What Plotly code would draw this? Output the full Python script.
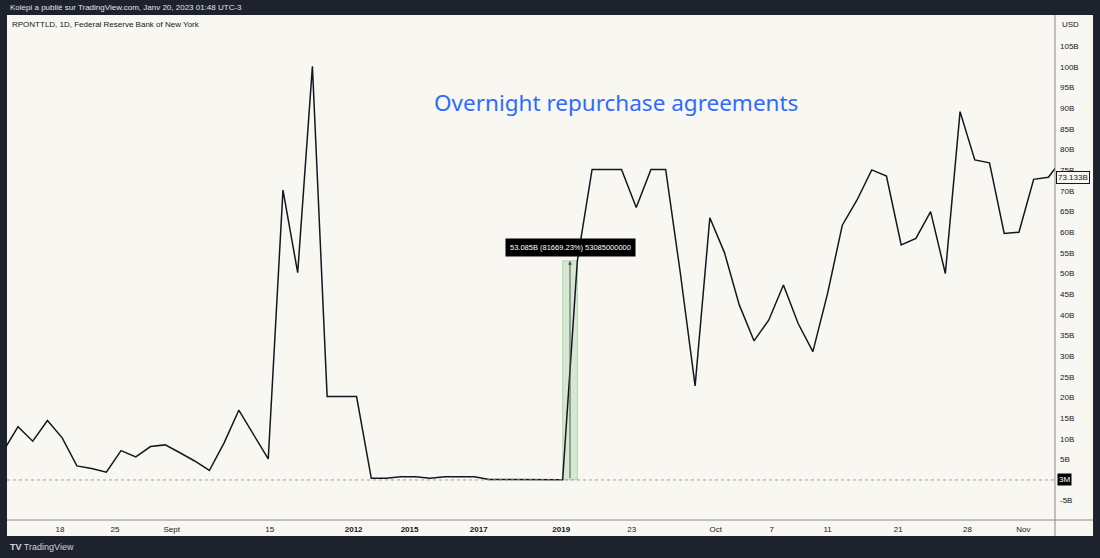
import plotly.graph_objects as go

# RPONTTLD daily values (billions USD), one value per bar
values = [
    7.0, 12.9, 9.4, 14.4, 10.2, 3.4, 2.8, 1.9, 7.1, 5.6,
    8.1, 8.5, 6.6, 4.6, 2.3, 9.0, 16.9, 11.1, 5.1, 70.2,
    50.2, 100.2, 20.2, 20.2, 20.2, 0.4, 0.4, 0.8, 0.8, 0.4,
    0.8, 0.8, 0.8, 0.1, 0.1, 0.1, 0.1, 0.1, 0.065, 53.085,
    75.2, 75.2, 75.2, 66.0, 75.2, 75.2, 50.0, 22.8, 63.5, 55.0,
    42.4, 33.7, 38.7, 47.2, 37.9, 31.1, 45.2, 61.7, 67.8, 75.1,
    73.6, 56.9, 58.5, 65.0, 50.0, 89.2, 77.5, 76.8, 59.7, 60.0,
    72.8, 73.3, 78.0,
]
bars = list(range(len(values)))

# time axis labels (bar positions)
x_tick_pos = [3.85, 7.59, 11.44, 18.1, 23.8, 27.6, 32.3, 37.9, 42.7, 48.4, 52.2, 56.0, 60.8, 65.5, 69.3]
x_tick_text = ["18", "25", "Sept", "15", "<b>2012</b>", "<b>2015</b>", "<b>2017</b>", "<b>2019</b>",
               "23", "Oct", "7", "11", "21", "28", "Nov"]

y_tick_vals = [-5, 5, 10, 15, 20, 25, 30, 35, 40, 45, 50, 55, 60, 65, 70, 75, 80, 85, 90, 95, 100, 105]
y_tick_text = [f"{v}B" for v in y_tick_vals]

last_value = 73.133
base_value = 0.003
measure_from = 38
measure_to = 39

BG = "#f8f7f2"
DARK = "#1e222d"
INK = "#131722"
FONT = "Liberation Sans"

fig = go.Figure()
fig.add_trace(go.Scatter(x=bars, y=values, mode="lines",
                         line=dict(color=INK, width=1.5), hoverinfo="skip"))

# light chart panel incl. price/time scale strips
fig.add_shape(type="rect", xref="paper", yref="paper", x0=0, x1=1.0363, y0=-0.0317, y1=1,
              fillcolor=BG, line_width=0, layer="below")
# scale separators
fig.add_shape(type="line", xref="paper", yref="paper", x0=1, x1=1, y0=-0.0317, y1=1,
              line=dict(color="#8a8a8a", width=1))
fig.add_shape(type="line", xref="paper", yref="paper", x0=0, x1=1.0363, y0=0, y1=0,
              line=dict(color="#8a8a8a", width=1))
# zero dotted line
fig.add_shape(type="line", xref="paper", yref="y", x0=0, x1=1, y0=base_value, y1=base_value,
              line=dict(color="#a0a0a0", width=1, dash="dot"))
# measure box
fig.add_shape(type="rect", xref="x", yref="y", x0=measure_from, x1=measure_to,
              y0=values[measure_from], y1=values[measure_to],
              fillcolor="rgba(76,175,80,0.2)", line=dict(color="rgba(76,175,80,0.35)", width=1),
              layer="below")
fig.add_annotation(x=(measure_from + measure_to) / 2, y=values[measure_to],
                   ax=(measure_from + measure_to) / 2, ay=values[measure_from],
                   xref="x", yref="y", axref="x", ayref="y", text="",
                   showarrow=True, arrowhead=2, arrowsize=0.8, arrowwidth=1, arrowcolor="#555")
fig.add_annotation(x=(measure_from + measure_to) / 2, y=56.4, xref="x", yref="y", yanchor="middle",
                   text="53.085B (81669.23%) 53085000000", showarrow=False,
                   font=dict(color="white", size=7.5, family=FONT),
                   bgcolor="#000000", borderpad=4)

# title
fig.add_annotation(x=0.581, y=0.8277, xref="paper", yref="paper", xanchor="center", yanchor="middle",
                   text="Overnight repurchase agreements",
                   showarrow=False, font=dict(color="#2f6bff", size=22.5, family="Noto Sans"))

# header texts
fig.add_annotation(x=0.001, y=1.0139, xref="paper", yref="paper", xanchor="left", yanchor="middle",
                   text="Kolepi a publié sur TradingView.com, Janv 20, 2023 01:48 UTC-3",
                   showarrow=False, font=dict(color="#e0e3eb", size=8, family=FONT))
fig.add_annotation(x=0.003, y=0.982, xref="paper", yref="paper", xanchor="left", yanchor="middle",
                   text="RPONTTLD, 1D, Federal Reserve Bank of New York",
                   showarrow=False, font=dict(color=INK, size=8, family=FONT))
fig.add_annotation(x=0.0335, y=-0.0535, xref="paper", yref="paper", xanchor="center", yanchor="middle",
                   text="<b>TV</b> TradingView", showarrow=False,
                   font=dict(color="#d1d4dc", size=9, family=FONT))

# price scale labels
fig.add_annotation(x=1.005, y=0.982, xref="paper", yref="paper", xanchor="left", yanchor="middle",
                   text="USD", showarrow=False, font=dict(color=INK, size=8, family=FONT))
fig.add_annotation(x=1.002, y=base_value, xref="paper", yref="y", xanchor="left", yanchor="middle",
                   text="3M", showarrow=False, bgcolor="#000000", borderpad=1,
                   font=dict(color="white", size=8, family=FONT))
fig.add_annotation(x=1.001, y=last_value, xref="paper", yref="y", xanchor="left", yanchor="middle",
                   text=f"{last_value:.3f}B", showarrow=False, bgcolor=BG,
                   bordercolor=INK, borderwidth=1, borderpad=1,
                   font=dict(color=INK, size=8, family=FONT))

fig.update_xaxes(range=[0.251, 71.45], tickvals=x_tick_pos, ticktext=x_tick_text,
                 showgrid=False, zeroline=False, ticks="", showline=False, ticklabelstandoff=3,
                 tickfont=dict(color=INK, size=8, family=FONT))
fig.update_yaxes(range=[-9.69, 112.6], side="right", tickvals=y_tick_vals, ticktext=y_tick_text,
                 showgrid=False, zeroline=False, ticks="", showline=False, ticklabelstandoff=4,
                 tickfont=dict(color=INK, size=8, family=FONT))

fig.update_layout(width=1100, height=558, margin=dict(l=7, r=45, t=15, b=38),
                  paper_bgcolor=DARK, plot_bgcolor=BG, showlegend=False)

fig.write_html("out.html", config={"displayModeBar": False},
               post_script="document.body.style.margin='0';"
                           "document.body.style.background='#1e222d';"
                           "document.body.style.overflow='hidden';")
